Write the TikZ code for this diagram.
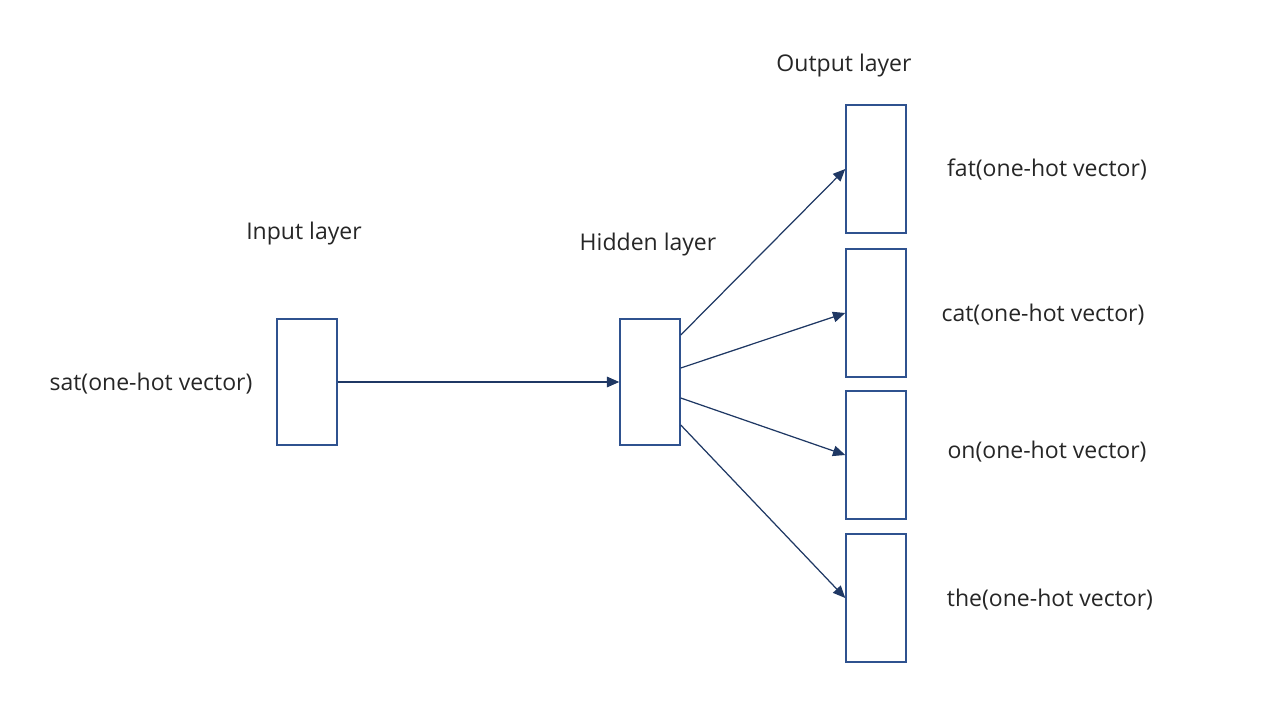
\documentclass[tikz,border=0pt]{standalone}
\usepackage{fontspec}
\setmainfont{Open Sans}
\usepackage{xcolor}
\definecolor{boxblue}{RGB}{47,82,143}
\definecolor{arrownavy}{RGB}{31,56,100}
\definecolor{txtgray}{RGB}{38,38,38}
\usetikzlibrary{arrows.meta,positioning}

\begin{document}
\begin{tikzpicture}[
  x=0.02cm, y=-0.02cm,
  layer/.style={rectangle,draw=boxblue,line width=0.85pt,fill=white,
                minimum width=1.2cm,minimum height=2.52cm,inner sep=0pt},
  outlayer/.style={layer,minimum height=2.56cm},
  lbl/.style={font=\fontsize{13.1}{15.5}\selectfont,text=txtgray,inner sep=0pt},
  link/.style={draw=arrownavy,line width=0.7pt,-{Triangle[length=7pt,width=6pt]}},
]
  \useasboundingbox (0,0) rectangle (1268,706);

  % layers
  \node[layer](I) at (307,382) {};
  \node[layer](H) at (650,382) {};
  \node[outlayer](O1) at (876,169) {};
  \node[outlayer](O2) at (876,313) {};
  \node[outlayer](O3) at (876,455) {};
  \node[outlayer](O4) at (876,598) {};

  % titles
  \node[lbl](tI) at (304,234) {Input layer};
  \node[lbl](tH) at (648,245) {Hidden layer};
  \node[lbl](tO) at (844,66)  {Output layer};

  % words
  \node[lbl](wI) at (151,384)  {sat(one-hot vector)};
  \node[lbl](w1) at (1047,170) {fat(one-hot vector)};
  \node[lbl](w2) at (1043,315) {cat(one-hot vector)};
  \node[lbl](w3) at (1047,452) {on(one-hot vector)};
  \node[lbl](w4) at (1050,600) {the(one-hot vector)};

  % connections
  \draw[link] (I.east) -- (H.west);
  \draw[link] ([yshift=0.94cm]H.east) -- (O1.west);
  \draw[link] ([yshift=0.28cm]H.east) -- (O2.west);
  \draw[link] ([yshift=-0.32cm]H.east) -- (O3.west);
  \draw[link] ([yshift=-0.86cm]H.east) -- (O4.west);
\end{tikzpicture}
\end{document}
